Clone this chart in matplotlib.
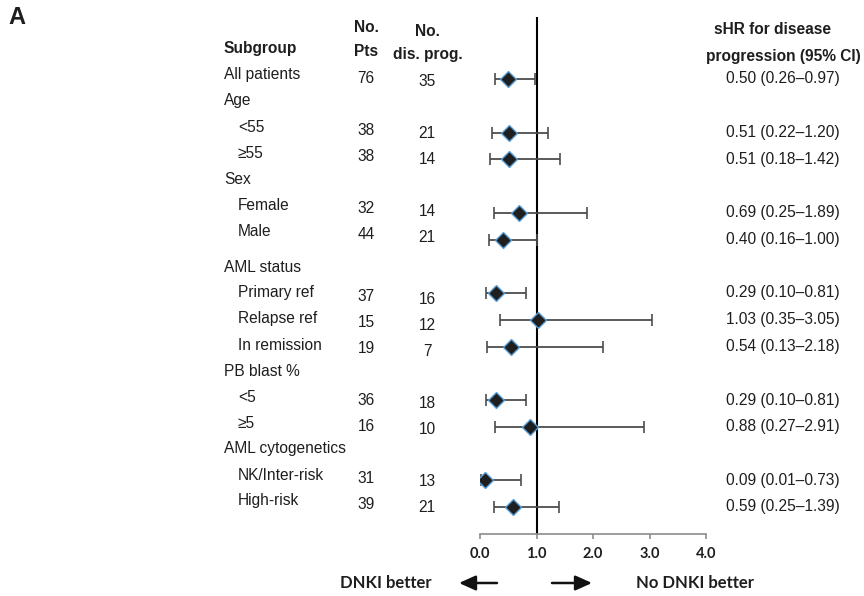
import matplotlib
matplotlib.use("Agg")
import matplotlib.pyplot as plt
from matplotlib.patches import FancyArrowPatch
from matplotlib.transforms import blended_transform_factory

# ---- data ----
subgroups = ["All patients", "Age", "<55", "≥55", "Sex", "Female", "Male",
             "AML status", "Primary ref", "Relapse ref", "In remission",
             "PB blast %", "<5", "≥5", "AML cytogenetics", "NK/Inter-risk", "High-risk"]
indented = [0, 0, 1, 1, 0, 1, 1, 0, 1, 1, 1, 0, 1, 1, 0, 1, 1]
n_pts = [76, None, 38, 38, None, 32, 44, None, 37, 15, 19, None, 36, 16, None, 31, 39]
n_prog = [35, None, 21, 14, None, 14, 21, None, 16, 12, 7, None, 18, 10, None, 13, 21]
shr = [0.50, None, 0.51, 0.51, None, 0.69, 0.40, None, 0.29, 1.03, 0.54, None, 0.29, 0.88, None, 0.09, 0.59]
ci_lo = [0.26, None, 0.22, 0.18, None, 0.25, 0.16, None, 0.10, 0.35, 0.13, None, 0.10, 0.27, None, 0.01, 0.25]
ci_hi = [0.97, None, 1.20, 1.42, None, 1.89, 1.00, None, 0.81, 3.05, 2.18, None, 0.81, 2.91, None, 0.73, 1.39]
x_ticks = [0.0, 1.0, 2.0, 3.0, 4.0]
x_ticklabels = ["0.0", "1.0", "2.0", "3.0", "4.0"]

# ---- layout (pixels on an 864 x 596 canvas) ----
W, H = 864, 596
label_px = [75, 101, 127, 153, 179, 205, 231, 267, 293, 319, 345, 371, 397, 423, 449, 475, 501]

TXT = "#1e1e1e"
SANS = ["Liberation Sans", "DejaVu Sans"]
CAL = ["Lato", "DejaVu Sans"]
FS = 11.2


def fx(px):
    return px / W


def fy(py):
    return 1 - py / H


fig = plt.figure(figsize=(W / 100, H / 100), dpi=100)
fig.patch.set_facecolor("white")

# forest panel: x in sHR units, y in row slots
ax_top, ax_bot = 17, 534
ax = fig.add_axes([fx(480), fy(ax_bot), fx(706) - fx(480), (ax_bot - ax_top) / H])
row_px0, row_step = 79, 26.75
ax.set_ylim((ax_bot - row_px0) / row_step, (ax_top - row_px0) / row_step)
ax.set_xlim(0, 4)
ax.patch.set_alpha(0)
for s in ["top", "right", "left"]:
    ax.spines[s].set_visible(False)
ax.spines["bottom"].set_color("#8c8c8c")
ax.spines["bottom"].set_linewidth(1.2)
ax.set_yticks([])
ax.set_xticks(x_ticks)
ax.set_xticklabels(x_ticklabels, fontfamily=CAL, fontweight="bold", fontsize=10.5, color=TXT)
ax.tick_params(axis="x", direction="out", length=3.5, width=1.2, color="#8c8c8c", pad=6)
ax.axvline(1.0, color="black", lw=1.5, zorder=1)

for i, v in enumerate(shr):
    if v is None:
        continue
    ax.errorbar(v, i, xerr=[[v - ci_lo[i]], [ci_hi[i] - v]], fmt="none",
                ecolor="#4d4d4d", elinewidth=1.3, capsize=4.5, capthick=1.2, zorder=2)
    ax.plot(v, i, marker="D", ms=8.5, mfc="#1f1f1f", mec="#5a9fd8", mew=1.0, zorder=3)

# panel letter
fig.text(fx(8), fy(18), "A", fontfamily=SANS, fontweight="bold", fontsize=17,
         color=TXT, va="center", ha="left")

# column headers
hdr = dict(fontfamily=SANS, fontweight="bold", fontsize=FS, color=TXT, va="center")
fig.text(fx(224), fy(49), "Subgroup", ha="left", **hdr)
fig.text(fx(366), fy(28), "No.", ha="center", **hdr)
fig.text(fx(366), fy(51), "Pts", ha="center", **hdr)
fig.text(fx(427), fy(31), "No.", ha="center", **hdr)
fig.text(fx(428), fy(54), "dis. prog.", ha="center", **hdr)
fig.text(fx(773), fy(30), "sHR for disease", ha="center", **hdr)
fig.text(fx(783), fy(57), "progression (95% CI)", ha="center", **hdr)

# table rows
body = dict(fontfamily=SANS, fontsize=FS, color=TXT, va="center")
ci_tr = blended_transform_factory(fig.transFigure, ax.transData)
for i, name in enumerate(subgroups):
    y = label_px[i]
    fig.text(fx(238 if indented[i] else 224), fy(y), name, ha="left", **body)
    if n_pts[i] is not None:
        fig.text(fx(366), fy(y + 3.5), str(n_pts[i]), ha="center", **body)
        fig.text(fx(427), fy(y + 6), str(n_prog[i]), ha="center", **body)
    if shr[i] is not None:
        label = f"{shr[i]:.2f} ({ci_lo[i]:.2f}\u2013{ci_hi[i]:.2f})"
        fig.text(fx(783), i, label, transform=ci_tr, ha="center", **body)

# direction arrows
arrow_kw = dict(arrowstyle="-|>,head_length=1.0,head_width=0.45", color="#111111", lw=1.8,
                shrinkA=0, shrinkB=0, mutation_scale=10, transform=fig.transFigure)
fig.add_artist(FancyArrowPatch((fx(497), fy(583)), (fx(459), fy(583)), **arrow_kw))
fig.add_artist(FancyArrowPatch((fx(552), fy(583)), (fx(592), fy(583)), **arrow_kw))
fig.text(fx(386), fy(583), "DNKI better", fontfamily=CAL, fontweight="bold", fontsize=12,
         color=TXT, va="center", ha="center")
fig.text(fx(695), fy(583), "No DNKI better", fontfamily=CAL, fontweight="bold", fontsize=12,
         color=TXT, va="center", ha="center")

fig.savefig("out.png", dpi=100, facecolor="white")
